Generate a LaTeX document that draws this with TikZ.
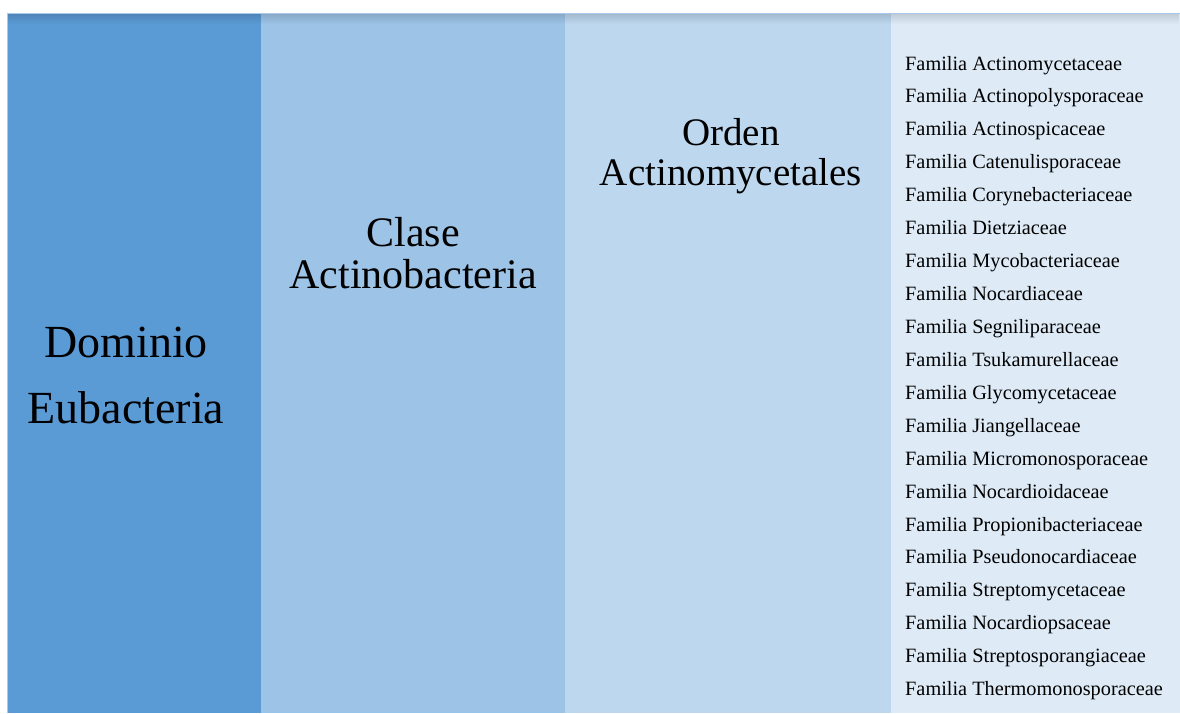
\documentclass[tikz,border=0pt]{standalone}
\usepackage{fontspec}
\setmainfont{Liberation Serif}
\usetikzlibrary{fadings}
\definecolor{cA}{HTML}{5B9BD5}
\definecolor{cB}{HTML}{9DC3E6}
\definecolor{cC}{HTML}{BDD7EE}
\definecolor{cD}{HTML}{DEEBF7}
\definecolor{edge}{HTML}{A9C8EA}
\tikzfading[name=fadedown, top color=transparent!0, bottom color=transparent!100]
\begin{document}
\begin{tikzpicture}[x=1pt,y=-1pt,
  col/.style={anchor=north west, inner sep=0pt, outer sep=0pt},
  big/.style={anchor=base, inner sep=0pt, font=\fontsize{#1}{#1}\selectfont},
  fam/.style={anchor=base west, inner sep=0pt, font=\fontsize{20.3}{20.3}\selectfont}]
\useasboundingbox (0,0) rectangle (1180,713);
\node[col, fill=cA, minimum width=254, minimum height=700] (c1) at (7,13) {};
\node[col, fill=cB, minimum width=304, minimum height=699] (c2) at (261,14) {};
\node[col, fill=cC, minimum width=330, minimum height=699] (c3) at (565,14) {};
\node[col, fill=cD, minimum width=289, minimum height=699] (c4) at (891,14) {};
\fill[black, opacity=0.13, path fading=fadedown] (7,14) rectangle (1180,24);
\draw[edge, line width=1pt] (7,13.5) -- (1180,13.5);
\draw[edge, line width=1pt] (7.5,13) -- (7.5,713);
\node[big=46] (d1) at (126,357) {Dominio};
\node[big=46] (d2) at (126,423) {Eubacteria};
\node[big=42] (k1) at (413,246) {Clase};
\node[big=42] (k2) at (413,288) {Actinobacteria};
\node[big=39] (o1) at (731,145) {Orden};
\node[big=39] (o2) at (731,185) {Actinomycetales};
\foreach \t [count=\i from 0] in {Actinomycetaceae, Actinopolysporaceae, Actinospicaceae, Catenulisporaceae, Corynebacteriaceae, Dietziaceae, Mycobacteriaceae, Nocardiaceae, Segniliparaceae, Tsukamurellaceae, Glycomycetaceae, Jiangellaceae, Micromonosporaceae, Nocardioidaceae, Propionibacteriaceae, Pseudonocardiaceae, Streptomycetaceae, Nocardiopsaceae, Streptosporangiaceae, Thermomonosporaceae}
  \node[fam] (f\i) at (905,{70+32.93*\i}) {Familia \t};
\end{tikzpicture}
\end{document}
